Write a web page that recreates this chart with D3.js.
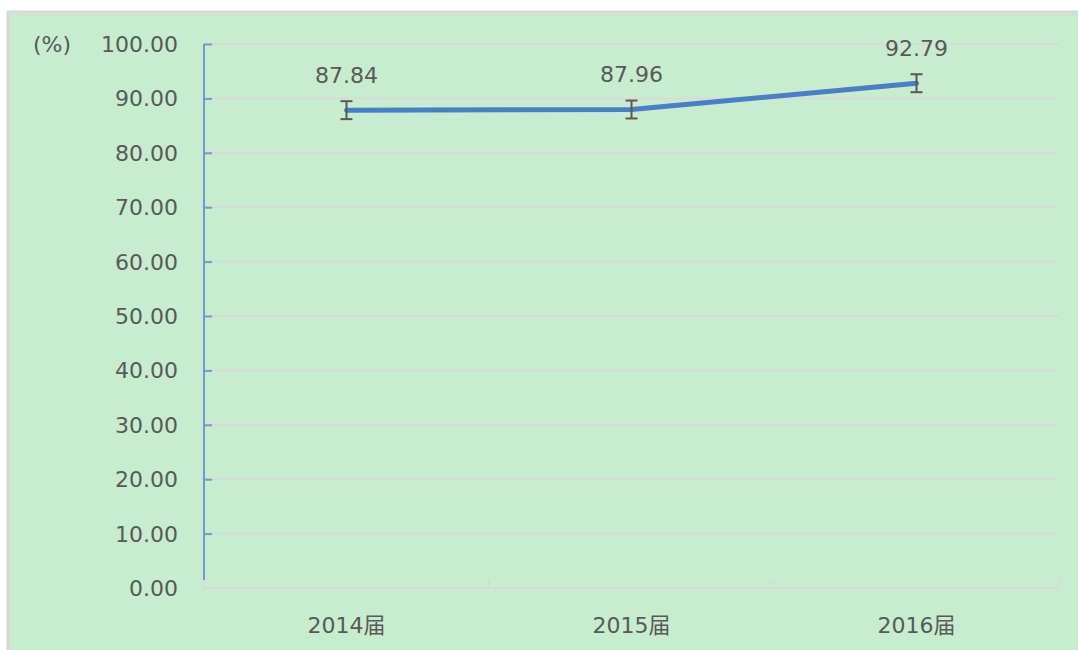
<!DOCTYPE html>
<html>
<head>
<meta charset="utf-8">
<script src="https://cdn.jsdelivr.net/npm/d3@7"></script>
<style>
  html, body { margin: 0; padding: 0; background: #ffffff; }
  svg { display: block; }
  text { font-family: "DejaVu Sans", "Noto Sans CJK SC", sans-serif; fill: #595959; }
</style>
</head>
<body>
<svg id="chart" width="1078" height="650"></svg>
<script>
// Graduating cohorts and their rates (%)
const categories = ["2014届", "2015届", "2016届"];
const values = [87.84, 87.96, 92.79];
const errors = [1.65, 1.65, 1.65];
const yTicks = [0, 10, 20, 30, 40, 50, 60, 70, 80, 90, 100];
const unitLabel = "(%)";

const svg = d3.select("#chart");
const W = 1078, H = 650;
const fontSize = 22;

// Panel background with a grey frame on the top and left
svg.append("rect").attr("x", 8).attr("y", 12).attr("width", W - 8).attr("height", H - 12)
  .attr("fill", "#c7ecce");
svg.append("line").attr("x1", 7).attr("x2", W).attr("y1", 12).attr("y2", 12)
  .attr("stroke", "#d6d6d6").attr("stroke-width", 3);
svg.append("line").attr("x1", 8).attr("x2", 8).attr("y1", 11).attr("y2", H)
  .attr("stroke", "#d6d6d6").attr("stroke-width", 3);

const plotL = 204, plotR = 1059, plotT = 44, plotB = 588;

const x = d3.scaleBand().domain(categories).range([plotL, plotR]).paddingInner(0).paddingOuter(0);
const y = d3.scaleLinear().domain([0, 100]).range([plotB, plotT]);

// Horizontal gridlines
svg.append("g").selectAll("line").data(yTicks.filter(d => d > 0)).join("line")
  .attr("x1", plotL).attr("x2", plotR)
  .attr("y1", d => y(d)).attr("y2", d => y(d))
  .attr("stroke", "#d9d9d9").attr("stroke-width", 2);

// Category axis with boundary ticks pointing up
const xb = svg.append("g");
xb.append("line").attr("x1", plotL - 1).attr("x2", plotR).attr("y1", plotB).attr("y2", plotB)
  .attr("stroke", "#d9d9d9").attr("stroke-width", 2);
const bounds = categories.map(c => x(c)).concat([plotR]);
xb.selectAll("line.tk").data(bounds).join("line").attr("class", "tk")
  .attr("x1", d => d).attr("x2", d => d).attr("y1", plotB).attr("y2", plotB - 8)
  .attr("stroke", "#d9d9d9").attr("stroke-width", 2);
xb.selectAll("text").data(categories).join("text")
  .attr("x", d => x(d) + x.bandwidth() / 2).attr("y", 633)
  .attr("text-anchor", "middle").attr("font-size", fontSize)
  .text(d => d);

// Value axis
const yAxis = d3.axisRight(y).tickValues(yTicks).tickSize(8).tickFormat("");
const ya = svg.append("g").attr("transform", `translate(${plotL},0)`).call(yAxis);
ya.select(".domain").attr("stroke", "#6d9bd2").attr("stroke-width", 2)
  .attr("d", `M0,${plotT}V${plotB - 8}`);
ya.selectAll(".tick line").attr("stroke", "#6d9bd2").attr("stroke-width", 2);
ya.selectAll(".tick").filter(d => d === 0).remove();

svg.append("g").selectAll("text").data(yTicks).join("text")
  .attr("x", 178).attr("y", d => y(d)).attr("dy", "0.36em")
  .attr("text-anchor", "end").attr("font-size", fontSize)
  .text(d => d3.format(".2f")(d));

svg.append("text").attr("x", 52).attr("y", y(100)).attr("dy", "0.36em")
  .attr("text-anchor", "middle").attr("font-size", fontSize).text(unitLabel);

// Series line
const cx = d => x(d) + x.bandwidth() / 2;
const pts = categories.map((c, i) => [cx(c), y(values[i])]);
svg.append("path").attr("d", d3.line()(pts))
  .attr("fill", "none").attr("stroke", "#4a7ec6").attr("stroke-width", 5)
  .attr("stroke-linejoin", "round").attr("stroke-linecap", "round");

// Error bars
const eb = svg.append("g").attr("stroke", "#595959").attr("stroke-width", 2);
categories.forEach((c, i) => {
  const px = cx(c), lo = y(values[i] - errors[i]), hi = y(values[i] + errors[i]);
  eb.append("line").attr("x1", px).attr("x2", px).attr("y1", lo).attr("y2", hi);
  eb.append("line").attr("x1", px - 6).attr("x2", px + 6).attr("y1", lo).attr("y2", lo);
  eb.append("line").attr("x1", px - 6).attr("x2", px + 6).attr("y1", hi).attr("y2", hi);
});

// Value labels
svg.append("g").selectAll("text").data(categories).join("text")
  .attr("x", d => cx(d)).attr("y", (d, i) => y(values[i]) - 27)
  .attr("text-anchor", "middle").attr("font-size", fontSize)
  .text((d, i) => d3.format(".2f")(values[i]));
</script>
</body>
</html>
